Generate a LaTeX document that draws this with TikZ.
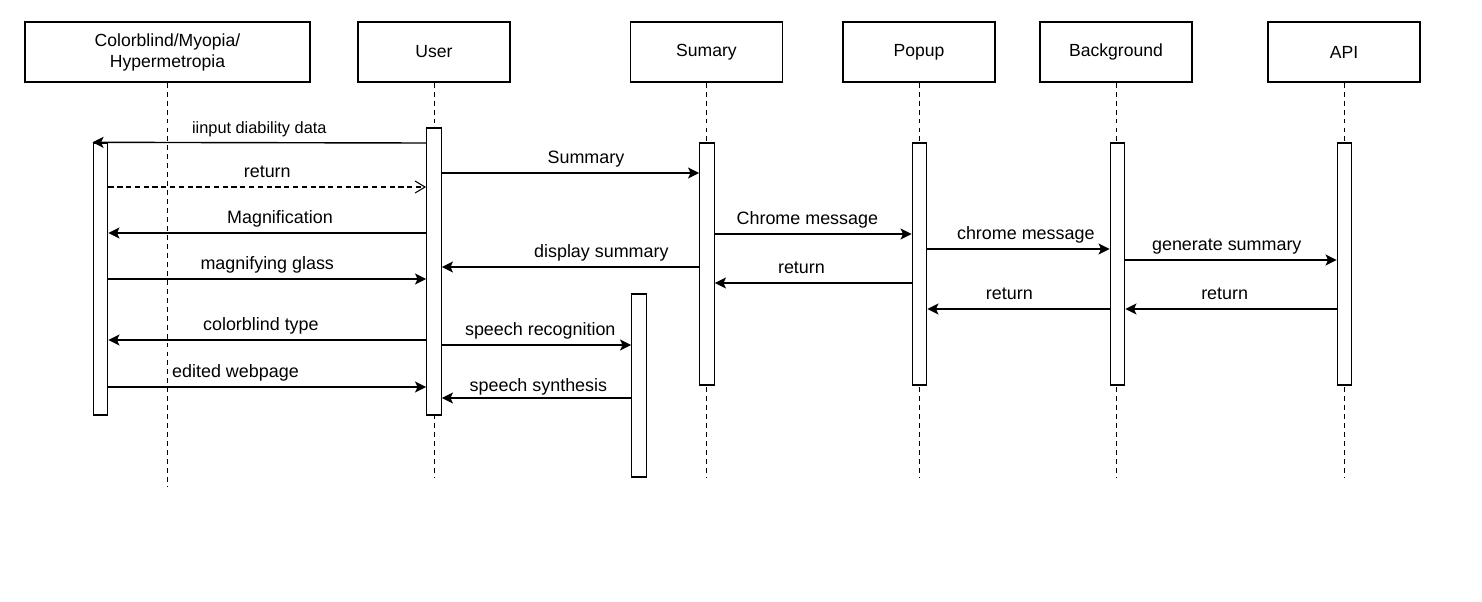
\documentclass[tikz,border=0pt]{standalone}
\usepackage{fontspec}
\setmainfont{Liberation Sans}
\usetikzlibrary{arrows.meta, positioning}

\begin{document}
\begin{tikzpicture}[x=0.02cm, y=-0.02cm, >={Stealth[length=0.22cm, width=0.22cm, inset=0.05cm]}]
% We define the styles for the heads, lifelines, bars and messages
 \tikzset{
head/.style = {draw, rectangle, line width=0.8pt, minimum height=1.2cm, minimum width=3.04cm, align=center, font=\fontsize{10}{12}\selectfont},
life/.style = {draw, line width=0.5pt, dash pattern=on 2.8pt off 2.3pt},
act/.style = {draw, rectangle, fill=white, line width=0.8pt, minimum width=0.29cm, inner sep=0pt},
msg/.style = {draw, ->, line width=0.8pt},
ret/.style = {draw, -{Straight Barb[length=0.2cm, width=0.24cm]}, line width=0.6pt, dash pattern=on 3pt off 2pt},
lbl/.style = {above, font=\fontsize{10.2}{12}\selectfont, inner sep=2.4pt, text height=0.75em, text depth=0.25em},
}
\path[use as bounding box, fill=white] (0,0) rectangle (1482,602);

 % Heads of the lifelines
 \node [head, minimum width=5.7cm] (cb) at (167.5,52) {Colorblind/Myopia/\\Hypermetropia};
 \node [head] (user) at (434,52) {User};
 \node [head] (sum) at (706.5,52) {Sumary};
 \node [head] (pop) at (919,52) {Popup};
 \node [head] (bg) at (1116,52) {Background};
 \node [head] (api) at (1344,52) {API};

 % Lifelines
 \draw [life] (cb.south) -- (cb.south |- 0,487);
 \foreach \n in {user, sum, pop, bg, api}
   \draw [life] (\n.south) -- (\n.south |- 0,477);

 % Activation bars
 \node [act, minimum height=5.44cm] (cbAct) at (100.5,279) {};
 \node [act, minimum height=5.74cm] (userAct) at (434,271.5) {};
 \node [act, minimum height=4.84cm] (sumAct) at (707,264) {};
 \node [act, minimum height=4.84cm] (popAct) at (919.5,264) {};
 \node [act, minimum height=4.84cm] (bgAct) at (1117.5,264) {};
 \node [act, minimum height=4.84cm] (apiAct) at (1344.5,264) {};
 \node [act, minimum height=3.66cm] (speechAct) at (639,385.5) {};

 % Messages between the user and the colorblind side
 \draw [msg] (userAct.west |- 0,143) -- (cbAct.north west) node[lbl, midway, font=\fontsize{9.3}{11}\selectfont] {iinput diability data};
 \draw [ret] (cbAct.east |- 0,187) -- (userAct.west |- 0,187) node[lbl, midway] {return};
 \draw [msg] (userAct.west |- 0,233) -- (cbAct.east |- 0,233) node[lbl, pos=0.46] {Magnification};
 \draw [msg] (cbAct.east |- 0,279) -- (userAct.west |- 0,279) node[lbl, midway] {magnifying glass};
 \draw [msg] (userAct.west |- 0,340) -- (cbAct.east |- 0,340) node[lbl, pos=0.52] {colorblind type};
 \draw [msg] (cbAct.east |- 0,387) -- (userAct.west |- 0,387) node[lbl, pos=0.4] {edited webpage};

 % Messages from the user to the summary and the speech bar
 \draw [msg] (userAct.east |- 0,173) -- (sumAct.west |- 0,173) node[lbl, pos=0.56] {Summary};
 \draw [msg] (sumAct.west |- 0,267) -- (userAct.east |- 0,267) node[lbl, pos=0.38] {display summary};
 \draw [msg] (userAct.east |- 0,345) -- (speechAct.west |- 0,345) node[lbl, pos=0.52] {speech recognition};
 \draw [msg] (speechAct.west |- 0,398) -- (userAct.east |- 0,398) node[lbl, pos=0.49, inner sep=1pt] {speech synthesis};

 % Messages inside the extension
 \draw [msg] (sumAct.east |- 0,234) -- (popAct.west |- 0,234) node[lbl, pos=0.47] {Chrome message};
 \draw [msg] (popAct.east |- 0,249) -- (bgAct.west |- 0,249) node[lbl, pos=0.54] {chrome message};
 \draw [msg] (bgAct.east |- 0,260) -- (apiAct.west |- 0,260) node[lbl, pos=0.48] {generate summary};
 \draw [msg] (popAct.west |- 0,283) -- (sumAct.east |- 0,283) node[lbl, pos=0.56] {return};
 \draw [msg] (bgAct.west |- 0,309) -- (popAct.east |- 0,309) node[lbl, pos=0.55] {return};
 \draw [msg] (apiAct.west |- 0,309) -- (bgAct.east |- 0,309) node[lbl, pos=0.53] {return};

\end{tikzpicture}
\end{document}
